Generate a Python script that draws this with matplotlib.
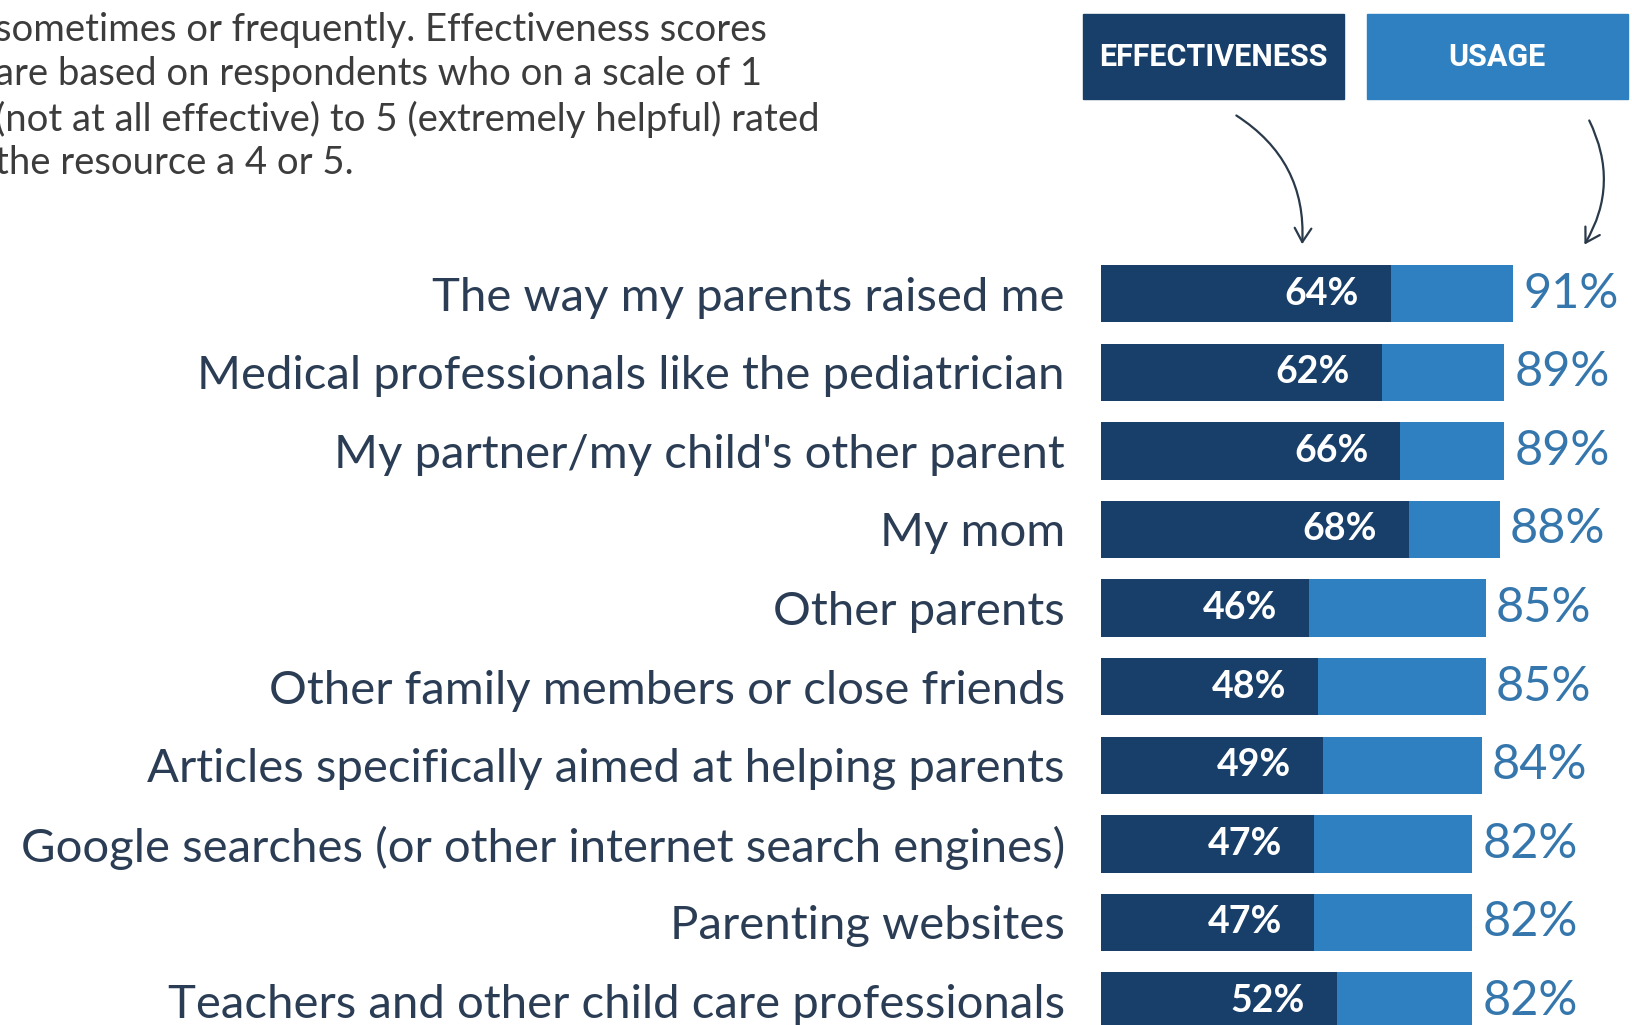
import matplotlib.pyplot as plt
from matplotlib.patches import Rectangle, FancyArrowPatch

# ---- data ----
resources = [
    "The way my parents raised me",
    "Medical professionals like the pediatrician",
    "My partner/my child's other parent",
    "My mom",
    "Other parents",
    "Other family members or close friends",
    "Articles specifically aimed at helping parents",
    "Google searches (or other internet search engines)",
    "Parenting websites",
    "Teachers and other child care professionals",
]
usage = [91, 89, 89, 88, 85, 85, 84, 82, 82, 82]
effectiveness = [64, 62, 66, 68, 46, 48, 49, 47, 47, 52]

note_lines = [
    "sometimes or frequently. Effectiveness scores",
    "are based on respondents who on a scale of 1",
    "(not at all effective) to 5 (extremely helpful) rated",
    "the resource a 4 or 5.",
]

DARK = "#173f6a"
LIGHT = "#2f80c0"
LABEL_C = "#2b3d55"
USAGE_C = "#3577ad"

W, H = 1633, 1025
fig = plt.figure(figsize=(W / 100, H / 100), dpi=100)
fig.patch.set_facecolor("white")


def fx(px):
    return px / W


def fy(py):
    # pixel from top -> figure fraction
    return 1 - py / H


# bars axes: x=0 at px 1101, 100% at px 1554; rows 78.6 px apart
row_top, row_gap = 293.7, 78.6
y_top = row_top - row_gap / 2
y_bot = row_top + row_gap * (len(resources) - 0.5)
ax = fig.add_axes([fx(1101), fy(y_bot), fx(453), (y_bot - y_top) / H])
ax.set_xlim(0, 100)
ax.set_ylim(len(resources) - 0.5, -0.5)

ypos = list(range(len(resources)))
ax.barh(ypos, usage, height=0.73, color=LIGHT)
ax.barh(ypos, effectiveness, height=0.73, color=DARK)

for i in ypos:
    ax.text(usage[i] + 2.2, i, f"{usage[i]}%", va="center", ha="left",
            fontsize=35, color=USAGE_C, family="Lato")
    ax.text(effectiveness[i] - 7, i, f"{effectiveness[i]}%", va="center",
            ha="right", fontsize=27, color="white", fontweight="bold",
            family="Lato")

ax.set_yticks(ypos)
ax.set_yticklabels(resources, fontsize=34, color=LABEL_C, family="Lato")
ax.tick_params(axis="y", length=0, pad=26)
ax.set_xticks([])
for s in ax.spines.values():
    s.set_visible(False)

# note paragraph (cut off at the left and top in the source)
for k, line in enumerate(note_lines):
    fig.text(fx(-5), fy(30 + 44.5 * k), line, ha="left", va="center",
             fontsize=27.5, color="#3c3c3c", family="Lato")

# legend boxes
boxes = [("EFFECTIVENESS", DARK, 1083), ("USAGE", LIGHT, 1367)]
for name, col, x0 in boxes:
    fig.patches.append(Rectangle((fx(x0), fy(99)), fx(261), 85 / H,
                                 transform=fig.transFigure, color=col))
    fig.text(fx(x0 + 130), fy(57), name, ha="center", va="center",
             fontsize=22, color="white", fontweight="bold",
             fontstretch="condensed", family="Roboto")

# hand-drawn style arrows
arrows = [((1234, 114), (1302, 247), -0.3), ((1588, 118), (1583, 247), -0.28)]
for (x1, y1), (x2, y2), rad in arrows:
    fig.patches.append(FancyArrowPatch((fx(x1), fy(y1)), (fx(x2), fy(y2)),
                                       transform=fig.transFigure,
                                       connectionstyle=f"arc3,rad={rad}",
                                       arrowstyle="->,head_length=10,head_width=6",
                                       color="#2a3a4a", lw=1.6))

fig.savefig("out.png", dpi=100)
